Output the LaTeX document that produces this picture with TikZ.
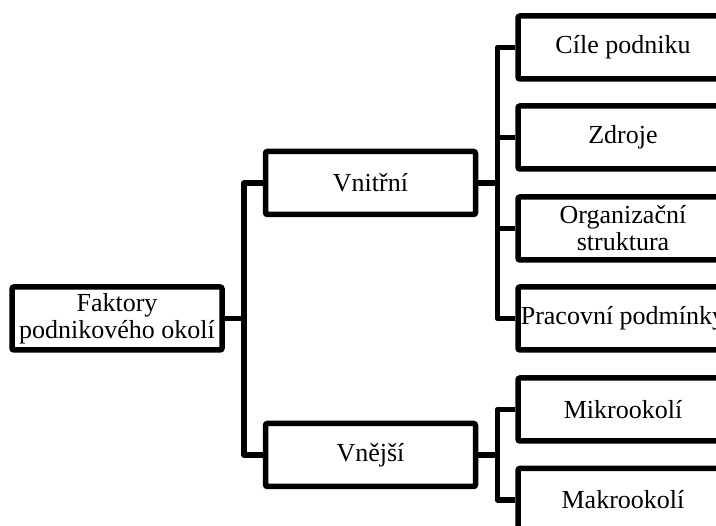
\documentclass[tikz,border=0pt]{standalone}
\usepackage{fontspec}
\setmainfont{Liberation Serif}
\tikzset{
  box/.style={draw, line width=5.5pt, rounded corners=2pt, minimum width=210pt,
    minimum height=63pt, inner sep=1pt, align=center,
    font=\fontsize{26}{27}\selectfont},
  link/.style={line width=5.5pt, line join=round}
}
\begin{document}
\begin{tikzpicture}[x=1pt,y=-1pt]
  \useasboundingbox (0,0) rectangle (716,526);
  \clip (0,0) rectangle (716,526);
  % root and the two main groups
  \node[box] (root) at (117,318.5) {Faktory\\podnikového okolí};
  \node[box] (vnitrni) at (370.5,183) {Vnitřní};
  \node[box] (vnejsi) at (370.5,455) {Vnější};
  % internal factors
  \node[box] (cile) at (623,47.5) {Cíle podniku};
  \node[box] (zdroje) at (623,137.5) {Zdroje};
  \node[box] (org) at (623,228.5) {Organizační\\struktura};
  \node[box] (prac) at (623,318.5) {Pracovní podmínky};
  % external factors
  \node[box] (mikro) at (623,409.5) {Mikrookolí};
  \node[box] (makro) at (623,500) {Makrookolí};
  % trunks
  \coordinate (t1) at (244,0);
  \coordinate (t2) at (497.5,0);
  % connectors
  \draw[link] (root.east) -- (root.east -| t1);
  \draw[link] (vnitrni.west) -- (vnitrni.west -| t1) |- (vnejsi.west);
  \draw[link] (vnitrni.east) -- (vnitrni.east -| t2);
  \draw[link] (cile.west) -- (cile.west -| t2) |- (prac.west);
  \draw[link] (zdroje.west) -- (zdroje.west -| t2);
  \draw[link] (org.west) -- (org.west -| t2);
  \draw[link] (mikro.west) -- (mikro.west -| t2) |- (makro.west);
  \draw[link] (vnejsi.east) -- (vnejsi.east -| t2);
\end{tikzpicture}
\end{document}
